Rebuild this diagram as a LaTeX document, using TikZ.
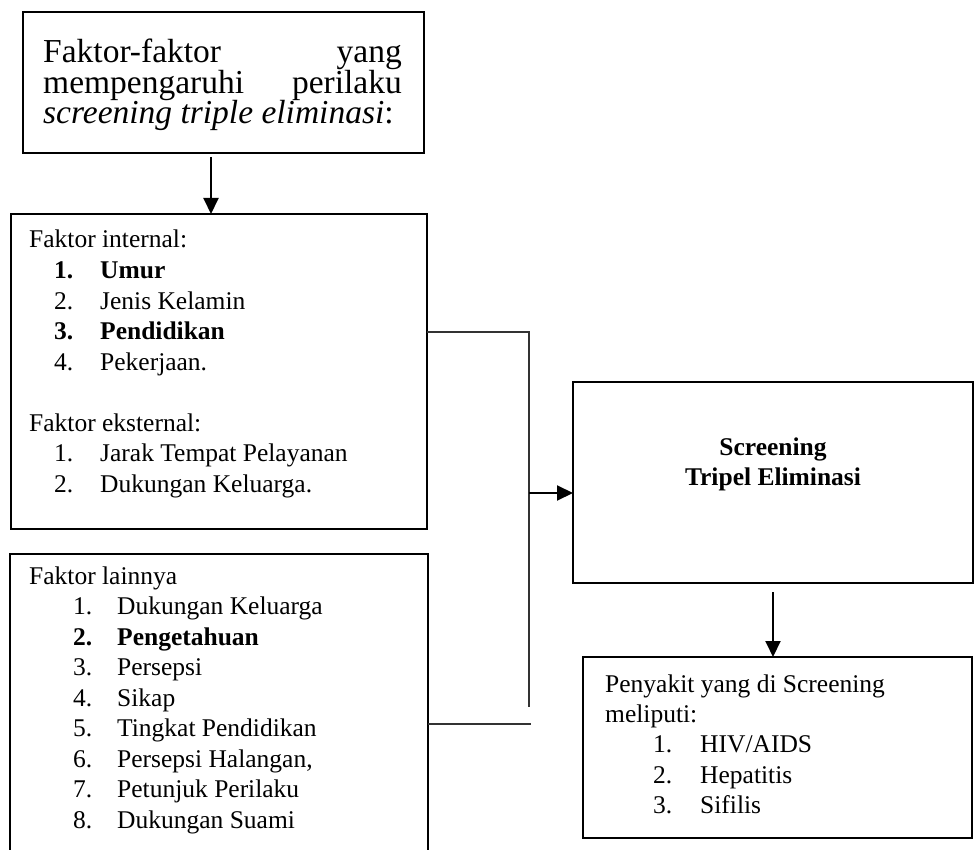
\documentclass[tikz,border=0pt]{standalone}
\usepackage{fontspec}
\setmainfont{Liberation Serif}
\usetikzlibrary{arrows.meta}
\newcommand{\myitem}[6]{%
  \node[txt] (#1n) at (#2,#4) {#5};
  \node[txt] (#1t) at (#3,#4) {#6};}
\begin{document}
\begin{tikzpicture}[x=1pt,y=-1pt,
  box/.style={draw, line width=2pt, inner sep=0pt, outer sep=0pt, anchor=north west},
  conn/.style={draw=black!80, line width=1.4pt},
  arr/.style={line width=2pt, -{Triangle[length=16pt,width=15pt]}},
  txt/.style={anchor=base west, inner sep=0pt, font=\fontsize{25.5}{30}\selectfont},
  ttop/.style={anchor=base west, inner sep=0pt, font=\fontsize{33.5}{31}\selectfont}]
\useasboundingbox (0,0) rectangle (974,850);

% boxes
\node[box, minimum width=401pt, minimum height=141pt] (top) at (23,12) {};
\node[box, minimum width=416pt, minimum height=315pt] (box2) at (11,214) {};
\node[box, draw=none, minimum width=418pt, minimum height=304pt] (box3) at (10,554) {};
\draw[line width=2pt] (box3.south west) -- (box3.north west) -- (box3.north east) -- (box3.south east);
\node[box, minimum width=400pt, minimum height=201pt] (scr) at (573,382) {};
\node[box, minimum width=389pt, minimum height=181pt] (pen) at (583,657) {};

% top text
\node[ttop] (tA) at (43,63) {Faktor-faktor};
\node[ttop, anchor=base east] (tB) at (402,63) {yang};
\node[ttop] (tC) at (43,93.5) {mempengaruhi};
\node[ttop, anchor=base east] (tD) at (402,93.5) {perilaku};
\node[ttop] (tE) at (43,124) {\textit{screening triple eliminasi}:};

% internal / external
\node[txt] (fi) at (29,248) {Faktor internal:};
\myitem{i1}{54}{100}{278.5}{\bfseries 1.}{\bfseries Umur}
\myitem{i2}{54}{100}{309}{2.}{Jenis Kelamin}
\myitem{i3}{54}{100}{339.5}{\bfseries 3.}{\bfseries Pendidikan}
\myitem{i4}{54}{100}{370}{4.}{Pekerjaan.}
\node[txt] (fe) at (29,431) {Faktor eksternal:};
\myitem{e1}{54}{100}{461.5}{1.}{Jarak Tempat Pelayanan}
\myitem{e2}{54}{100}{492}{2.}{Dukungan Keluarga.}

% lainnya
\node[txt] (fl) at (29,584) {Faktor lainnya};
\myitem{l1}{73}{117}{614.5}{1.}{Dukungan Keluarga}
\myitem{l2}{73}{117}{645}{\bfseries 2.}{\bfseries Pengetahuan}
\myitem{l3}{73}{117}{675.5}{3.}{Persepsi}
\myitem{l4}{73}{117}{706}{4.}{Sikap}
\myitem{l5}{73}{117}{736.5}{5.}{Tingkat Pendidikan}
\myitem{l6}{73}{117}{767}{6.}{Persepsi Halangan,}
\myitem{l7}{73}{117}{797.5}{7.}{Petunjuk Perilaku}
\myitem{l8}{73}{117}{828}{8.}{Dukungan Suami}

% screening
\node[txt, anchor=base, font=\fontsize{25.5}{30}\selectfont\bfseries] (s1) at (773,455) {Screening};
\node[txt, anchor=base, font=\fontsize{25.5}{30}\selectfont\bfseries] (s2) at (773,485) {Tripel Eliminasi};

% penyakit
\node[txt] (p1) at (605,692) {Penyakit yang di Screening};
\node[txt] (p2) at (605,722) {meliputi:};
\myitem{q1}{653}{700}{752.5}{1.}{HIV/AIDS}
\myitem{q2}{653}{700}{783}{2.}{Hepatitis}
\myitem{q3}{653}{700}{813}{3.}{Sifilis}

% connectors
\coordinate (jtop) at (529,332);
\coordinate (jend) at (529,707);
\coordinate (jarr) at (529,493);
\coordinate (jbot) at (531,724);
\draw[conn] (box2.east |- jtop) -- (jtop) -- (jend);
\draw[conn] (box3.east |- jbot) -- (jbot);
\draw[arr] (jarr) -- (scr.west |- jarr);
\coordinate (a1) at (211,157);
\draw[arr] (a1) -- (a1 |- box2.north);
\coordinate (a2) at (773,592);
\draw[arr] (a2) -- (a2 |- pen.north);
\end{tikzpicture}
\end{document}
